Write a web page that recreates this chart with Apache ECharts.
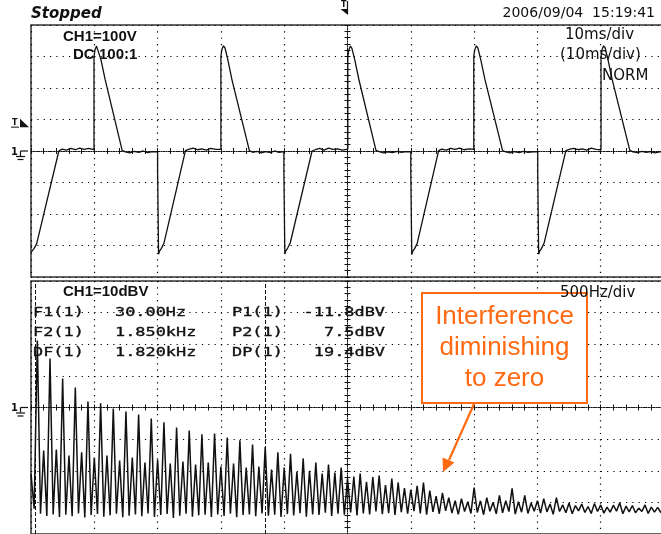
<!DOCTYPE html>
<html>
<head>
<meta charset="utf-8">
<title>Scope FFT</title>
<script src="https://cdn.jsdelivr.net/npm/echarts@6/dist/echarts.min.js"></script>
<style>
html, body { margin: 0; padding: 0; background: #fff; }
#chart { width: 661px; height: 534px; }
</style>
</head>
<body>
<div id="chart"></div>
<script>
// CH1 time trace, ms from trigger / volts
const traceMs = [
  -50.0, -49.85, -49.5, -49.1, -45.6,
  -45.1, -44.4, -43.7, -43.0, -42.3, -41.6, -40.9, -40.05,
  -40.05, -39.9, -39.65, -39.4, -38.95, -38.3, -35.6,
  -35.1, -34.4, -33.7, -33.0, -32.3, -31.6, -30.8, -30.0,
  -30.0, -29.85, -29.85, -29.7, -29.4, -29.0, -25.6,
  -25.1, -24.4, -23.7, -23.0, -22.3, -21.6, -20.8, -20.0,
  -20.0, -19.85, -19.6, -19.35, -18.9, -18.25, -15.5,
  -15.0, -14.3, -13.6, -12.9, -12.2, -11.5, -10.8, -10.05,
  -10.05, -9.9, -9.9, -9.75, -9.45, -9.05, -5.6,
  -5.1, -4.4, -3.7, -3.0, -2.3, -1.6, -0.8, 0.05,
  0.05, 0.2, 0.45, 0.7, 1.15, 1.8, 4.5,
  5.0, 5.7, 6.4, 7.1, 7.8, 8.5, 9.3, 10.0,
  10.0, 10.15, 10.15, 10.3, 10.6, 11.0, 14.4,
  14.9, 15.6, 16.3, 17.0, 17.7, 18.4, 19.2, 19.95,
  19.95, 20.1, 20.35, 20.6, 21.05, 21.7, 24.5,
  25.0, 25.7, 26.4, 27.1, 27.8, 28.5, 29.3, 30.05,
  30.05, 30.2, 30.2, 30.35, 30.65, 31.05, 34.5,
  35.0, 35.7, 36.4, 37.1, 37.8, 38.5, 39.3, 40.05,
  40.05, 40.2, 40.45, 40.7, 41.15, 41.8, 44.6,
  45.1, 45.8, 46.5, 47.2, 47.9, 48.6, 49.3, 50.0
];
const traceV = [
  -322, -318, -309, -294, 0,
  6, 3, 8, 4, 9, 5, 8, 4,
  298, 321, 333, 327, 290, 228, 2,
  -3, -6, -1, -4, 0, -5, -2, -3,
  -66, -70, -328, -318, -309, -293, 1,
  5, 9, 4, 7, 3, 8, 5, 5,
  300, 322, 334, 327, 289, 226, 1,
  -4, -1, -6, -2, -5, 0, -4, -2,
  -64, -69, -327, -317, -308, -292, 0,
  4, 8, 3, 9, 5, 7, 3, 6,
  299, 320, 333, 326, 289, 227, 2,
  -2, -6, -3, -5, -1, -4, -2, -3,
  -67, -71, -329, -319, -310, -294, 1,
  6, 3, 8, 5, 9, 4, 7, 5,
  301, 321, 334, 327, 290, 228, 1,
  -3, -6, -2, -5, -1, -4, -3, -2,
  -65, -70, -328, -318, -309, -293, 1,
  5, 8, 4, 7, 3, 9, 5, 4,
  300, 321, 334, 327, 290, 228, 2,
  -3, -5, -1, -4, -2, -6, -3, -2
];
const triggerLevelV = 90;

// FFT of CH1 (dBV), one peak per 50 Hz harmonic and the valley before it
const fundamentalHz = 50;
const dcDbv = -1;
const harmonicPeakDbv = [
  41.2, 6.4, 35.5, 6.7, 29.2, 4.8, 26.3, 5.8, 21.9, 4.2,
  21.3, 4.8, 19.7, 3.2, 18.7, 4.2, 17.8, 2.6, 16.5, 3.5,
  15.3, 2.3, 13.7, 2.9, 12.7, 2.0, 11.5, 2.6, 11.8, 1.3,
  10.5, 2.3, 9.6, 1.0, 8.3, 1.3, 7.5, 0.4, 5.8, 1.0,
  5.4, -0.3, 3.9, 0.0, 2.6, -0.9, 2.0, -0.6, 1.0, -2.5,
  -1.8, -0.9, -3.5, -2.0, -1.5, -4.5, -2.5, -3.7, -5.5, -6.0,
  -4.8, -3.7, -6.3, -8.0, -7.0, -8.5, -9.5, -8.8, -9.8, -5.3,
  -9.5, -8.5, -10.0, -7.8, -9.5, -5.6, -9.8, -7.8, -10.2, -9.5,
  -8.8, -10.5, -8.5, -10.8, -10.2, -11.0, -10.5, -11.3, -10.4, -10.8,
  -11.5, -10.9, -10.1, -11.2, -11.0, -11.8, -10.8, -11.5, -11.6, -11.2
];
const valleyDbv = [
  -12.0, -13.6, -14.3, -13.8, -14.6, -13.9, -14.4, -13.5, -14.8, -14.0,
  -13.7, -14.5, -14.1, -13.6, -14.7, -14.2, -13.8, -14.4, -13.5, -14.6,
  -14.0, -13.7, -14.9, -14.2, -13.6, -14.5, -14.1, -13.9, -14.6, -13.8,
  -14.3, -13.6, -14.7, -14.0, -13.8, -14.4, -13.5, -14.2, -13.9, -14.6,
  -13.7, -14.1, -13.4, -14.5, -13.8, -14.0, -13.3, -14.3, -13.6, -13.9,
  -13.2, -14.1, -13.5, -13.8, -12.9, -13.7, -13.4, -14.0, -13.1, -13.6,
  -12.8, -13.5, -13.9, -13.0, -13.6, -12.7, -13.4, -13.8, -12.9, -13.5,
  -13.2, -13.9, -12.8, -13.6, -13.3, -12.9, -13.7, -13.1, -13.5, -12.8,
  -13.4, -13.0, -13.8, -12.9, -13.3, -13.6, -12.7, -13.2, -13.5, -12.9,
  -13.4, -13.1, -12.8, -13.6, -13.0, -13.3, -12.9, -13.5, -13.1, -13.2
];
const cursorHz = [30, 1850];

// readout rows: label, frequency, label, level
const readoutRows = [
  ["F1(1)", "30.00Hz", "P1(1)", "-11.8dBV"],
  ["F2(1)", "1.850kHz", "P2(1)", "7.5dBV"],
  ["DF(1)", "1.820kHz", "DP(1)", "19.4dBV"]
];

const traceData = traceMs.map((t, i) => [t, traceV[i]]);
const spectrumData = [[0, dcDbv]];
harmonicPeakDbv.forEach((p, i) => {
  const f = (i + 1) * fundamentalHz;
  spectrumData.push([f - fundamentalHz / 2, valleyDbv[i]]);
  spectrumData.push([f, p]);
});

const INK = "#111";
const dots = { color: "#000", width: 1.2, type: [1.2, 5.13] };
const tickStyle = { color: INK, width: 1 };

// axis that only draws a centre line with cross ticks
function crossAxis(base, inside, zeroIdx) {
  return Object.assign({
    axisLine: { show: true, onZero: true, onZeroAxisIndex: zeroIdx, lineStyle: { color: INK, width: 1, type: [1, 1.5] } },
    axisTick: { show: true, inside: inside, length: 3, lineStyle: tickStyle },
    minorTick: { show: true, splitNumber: 5, length: 3, lineStyle: tickStyle },
    axisLabel: { show: false },
    splitLine: { show: false }
  }, base);
}

const chart = echarts.init(document.getElementById("chart"));
const option = {
  animation: false,
  backgroundColor: "#fff",
  grid: [
    { left: 31, top: 25, width: 633, height: 252, show: true, borderColor: "#333", borderWidth: 1.5, backgroundColor: "transparent", outerBoundsMode: "none" },
    { left: 31, top: 281, width: 633, height: 253, show: true, borderColor: "#333", borderWidth: 1.5, backgroundColor: "transparent", outerBoundsMode: "none" }
  ],
  xAxis: [
    crossAxis({ type: "value", gridIndex: 0, position: "bottom", min: -50, max: 50, interval: 10, splitLine: { show: true, lineStyle: dots } }, true, 0),
    crossAxis({ type: "value", gridIndex: 0, position: "bottom", min: -50, max: 50, interval: 10 }, false, 1),
    { type: "value", gridIndex: 1, position: "bottom", min: 0, max: 5000, interval: 500,
      axisLine: { show: false }, axisTick: { show: false }, axisLabel: { show: false },
      splitLine: { show: true, lineStyle: dots } },
    { type: "value", gridIndex: 1, position: "bottom", min: -2500, max: 2500, show: false },
    crossAxis({ type: "value", gridIndex: 1, position: "bottom", min: 0, max: 5000, interval: 500 }, true, 4),
    crossAxis({ type: "value", gridIndex: 1, position: "bottom", min: 0, max: 5000, interval: 500 }, false, 4)
  ],
  yAxis: [
    crossAxis({ type: "value", gridIndex: 0, position: "left", min: -400, max: 400, interval: 100, splitLine: { show: true, lineStyle: dots } }, true, 0),
    crossAxis({ type: "value", gridIndex: 0, position: "left", min: -400, max: 400, interval: 100 }, false, 1),
    crossAxis({ type: "value", gridIndex: 1, position: "left", min: -20, max: 60, interval: 10, splitLine: { show: true, lineStyle: dots } }, true, 3),
    crossAxis({ type: "value", gridIndex: 1, position: "left", min: -20, max: 60, interval: 10 }, false, 3),
    { type: "value", gridIndex: 1, position: "left", min: -40, max: 40, show: false }
  ],
  series: [
    {
      name: "CH1", type: "line", xAxisIndex: 0, yAxisIndex: 0,
      data: traceData, showSymbol: false, symbol: "none", z: 5,
      lineStyle: { color: INK, width: 1.3 }
    },
    {
      name: "FFT", type: "line", xAxisIndex: 2, yAxisIndex: 2,
      data: spectrumData, showSymbol: false, symbol: "none", z: 5,
      lineStyle: { color: INK, width: 1.5 },
      markLine: {
        silent: true, symbol: "none", label: { show: false },
        lineStyle: { color: INK, width: 1, type: [4, 2] },
        data: cursorHz.map(f => ({ xAxis: f }))
      }
    }
  ]
};
chart.setOption(option);

// ---- screen annotations ----
const trigX = chart.convertToPixel({ xAxisIndex: 0 }, 0);
const gndTop = chart.convertToPixel({ yAxisIndex: 0 }, 0);
const gndBot = chart.convertToPixel({ yAxisIndex: 2 }, 20);
const trigY = chart.convertToPixel({ yAxisIndex: 0 }, triggerLevelV);

const els = [];
function txt(x, y, s, font, opt) {
  opt = opt || {};
  const style = {
    x: 0, y: 0, text: s, font: font, fill: opt.fill || INK,
    textAlign: opt.align || "left", align: opt.align || "left",
    textVerticalAlign: "middle", verticalAlign: "middle",
    lineHeight: opt.lineHeight
  };
  if (opt.stroke) { style.stroke = opt.stroke; style.lineWidth = 0.35; }
  els.push({ type: "text", x: x, y: y, z: 20, scaleX: opt.scaleX || 1, style: style });
}
function ln(x1, y1, x2, y2, w, c) {
  els.push({ type: "line", z: 20, shape: { x1: x1, y1: y1, x2: x2, y2: y2 }, style: { stroke: c || INK, lineWidth: w || 1 } });
}
function poly(points, c) {
  els.push({ type: "polygon", z: 20, shape: { points: points }, style: { fill: c || INK } });
}
function ground(y) {
  txt(11, y + 1, "1", 'bold 10px "DejaVu Sans"');
  ln(20.5, y, 28, y, 1.2);
  ln(20.5, y, 20.5, y + 5, 1.2);
  ln(16, y + 5.5, 25, y + 5.5, 1.2);
  ln(17.5, y + 8.5, 23.5, y + 8.5, 1.2);
}

const SANS = '"Liberation Sans", Arial, sans-serif';
const DJ = '"DejaVu Sans", sans-serif';
const MONO = '13px "DejaVu Sans Mono", monospace';

txt(31, 14, "Stopped", 'italic bold 15px ' + DJ);
txt(655, 13, "2006/09/04  15:19:41", '14px ' + DJ, { align: "right" });

// trigger position marker
txt(341, 5, "T", 'bold 8px ' + DJ);
ln(trigX, 1, trigX, 14, 1.2);
poly([[trigX - 7, 9], [trigX + 0.5, 9], [trigX + 0.5, 15]]);

// trigger level marker
txt(12, trigY, "T", 'bold 8px ' + DJ);
ln(11, trigY + 4.5, 19, trigY + 4.5, 1);
poly([[20, trigY - 4], [20, trigY + 4.5], [29, trigY + 4.5]]);

ground(gndTop);
ground(gndBot);

// top panel labels
txt(63, 37, "CH1=100V", 'bold 15px ' + SANS);
txt(73, 55, "DC", 'bold 15px ' + SANS);
txt(99, 55, "100:1", 'bold 15px ' + SANS);
txt(565, 35, "10ms/div", '15px ' + DJ);
txt(560, 55, "(10ms/div)", '15px ' + DJ);
txt(602, 76, "NORM", '15px ' + DJ);

// annotation box and arrow
els.push({ type: "rect", z: 15, shape: { x: 422, y: 293, width: 165, height: 110 }, style: { fill: "#fff", stroke: "#FF6A13", lineWidth: 2 } });
txt(504.5, 348, "Interference\ndiminishing\nto zero", '26px ' + SANS, { align: "center", fill: "#FF6A13", lineHeight: 31 });
ln(474, 404, 449, 460, 2.2, "#FF6A13");
poly([[443, 472], [454.5, 462.5], [442.5, 457.5]], "#FF6A13");

// bottom panel labels
txt(63, 292, "CH1=10dBV", 'bold 15px ' + SANS);
txt(560, 293, "500Hz/div", '15px ' + DJ);
readoutRows.forEach((r, i) => {
  const y = 313 + i * 20;
  const o = { scaleX: 1.3, stroke: INK };
  txt(33, y, r[0], MONO, o);
  txt(115, y, r[1], MONO, o);
  txt(232, y, r[2], MONO, o);
  txt(385, y, r[3], MONO, Object.assign({ align: "right" }, o));
});

chart.setOption({ graphic: { elements: els } });
</script>
</body>
</html>
